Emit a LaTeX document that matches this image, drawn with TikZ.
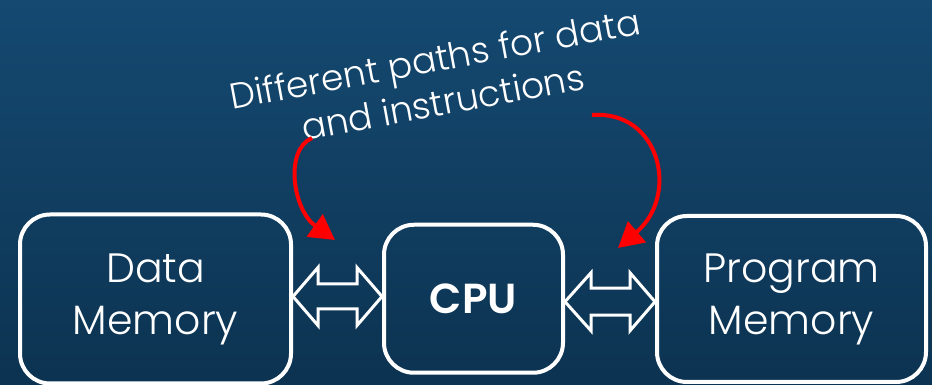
\documentclass[tikz,border=0pt]{standalone}
\usepackage{fontspec}
\setmainfont{Poppins}[UprightFont=* Light, BoldFont=* SemiBold]
\usetikzlibrary{arrows.meta,calc}
\definecolor{slidetop}{RGB}{21,73,113}
\definecolor{slidebottom}{RGB}{12,51,81}
\definecolor{pointred}{RGB}{255,0,0}

\begin{document}
\begin{tikzpicture}[
	x=1pt, y=1pt,
	box/.style={draw=white, line width=4pt, rounded corners=30pt, text=white, align=center, inner sep=0pt, font=\fontsize{41}{52}\selectfont},
	bus/.style={draw=white, line width=3pt, line join=miter},
	pointer/.style={draw=pointred, line width=4pt, -{Triangle[length=25pt,width=27pt]}}
	]

	\shade[top color=slidetop, bottom color=slidebottom] (0,0) rectangle (932,385);
	\useasboundingbox (0,0) rectangle (932,385);

	\node[box, minimum width=271pt, minimum height=169pt] (dmem) at (155.5,86) {Data\\Memory};
	\node[box, minimum width=179pt, minimum height=148pt, font=\fontsize{42}{50}\selectfont\bfseries] (cpu) at (473.5,86.25) {CPU};
	\node[box, minimum width=269pt, minimum height=166pt] (pmem) at (791.5,86) {Program\\Memory};

	\node[text=white, align=center, rotate=10.5, font=\fontsize{36}{44}\selectfont] (title) at (439,305) {Different paths for data\\and instructions};

	% buses
	\coordinate (bl) at ($(dmem.east)+(0,2.5)$);
	\coordinate (blr) at (cpu.west |- bl);
	\coordinate (br) at ($(cpu.east)+(0,-3)$);
	\coordinate (brr) at (pmem.west |- br);
	\draw[bus] (bl) -- ++(25,29) -- ++(0,-16.5) -- ($(blr)+(-25,12.5)$) -- ++(0,16.5) -- (blr) -- ++(-25,-29) -- ++(0,16.5) -- ($(bl)+(25,-12.5)$) -- ++(0,-16.5) -- cycle;
	\draw[bus] (br) -- ++(26,29) -- ++(0,-15.5) -- ($(brr)+(-25,13.5)$) -- ++(0,15.5) -- (brr) -- ++(-25,-29) -- ++(0,15.5) -- ($(br)+(26,-13.5)$) -- ++(0,-15.5) -- cycle;

	% pointers
	\coordinate (lstart) at (312,247);
	\coordinate (ltip) at (335,145);
	\coordinate (rstart) at (592,270);
	\coordinate (rtip) at (618,137);
	\draw[pointer] (lstart) .. controls (284,235) and (293,175) .. (ltip);
	\draw[pointer] (rstart) .. controls (660,275) and (680,190) .. (rtip);

\end{tikzpicture}
\end{document}
